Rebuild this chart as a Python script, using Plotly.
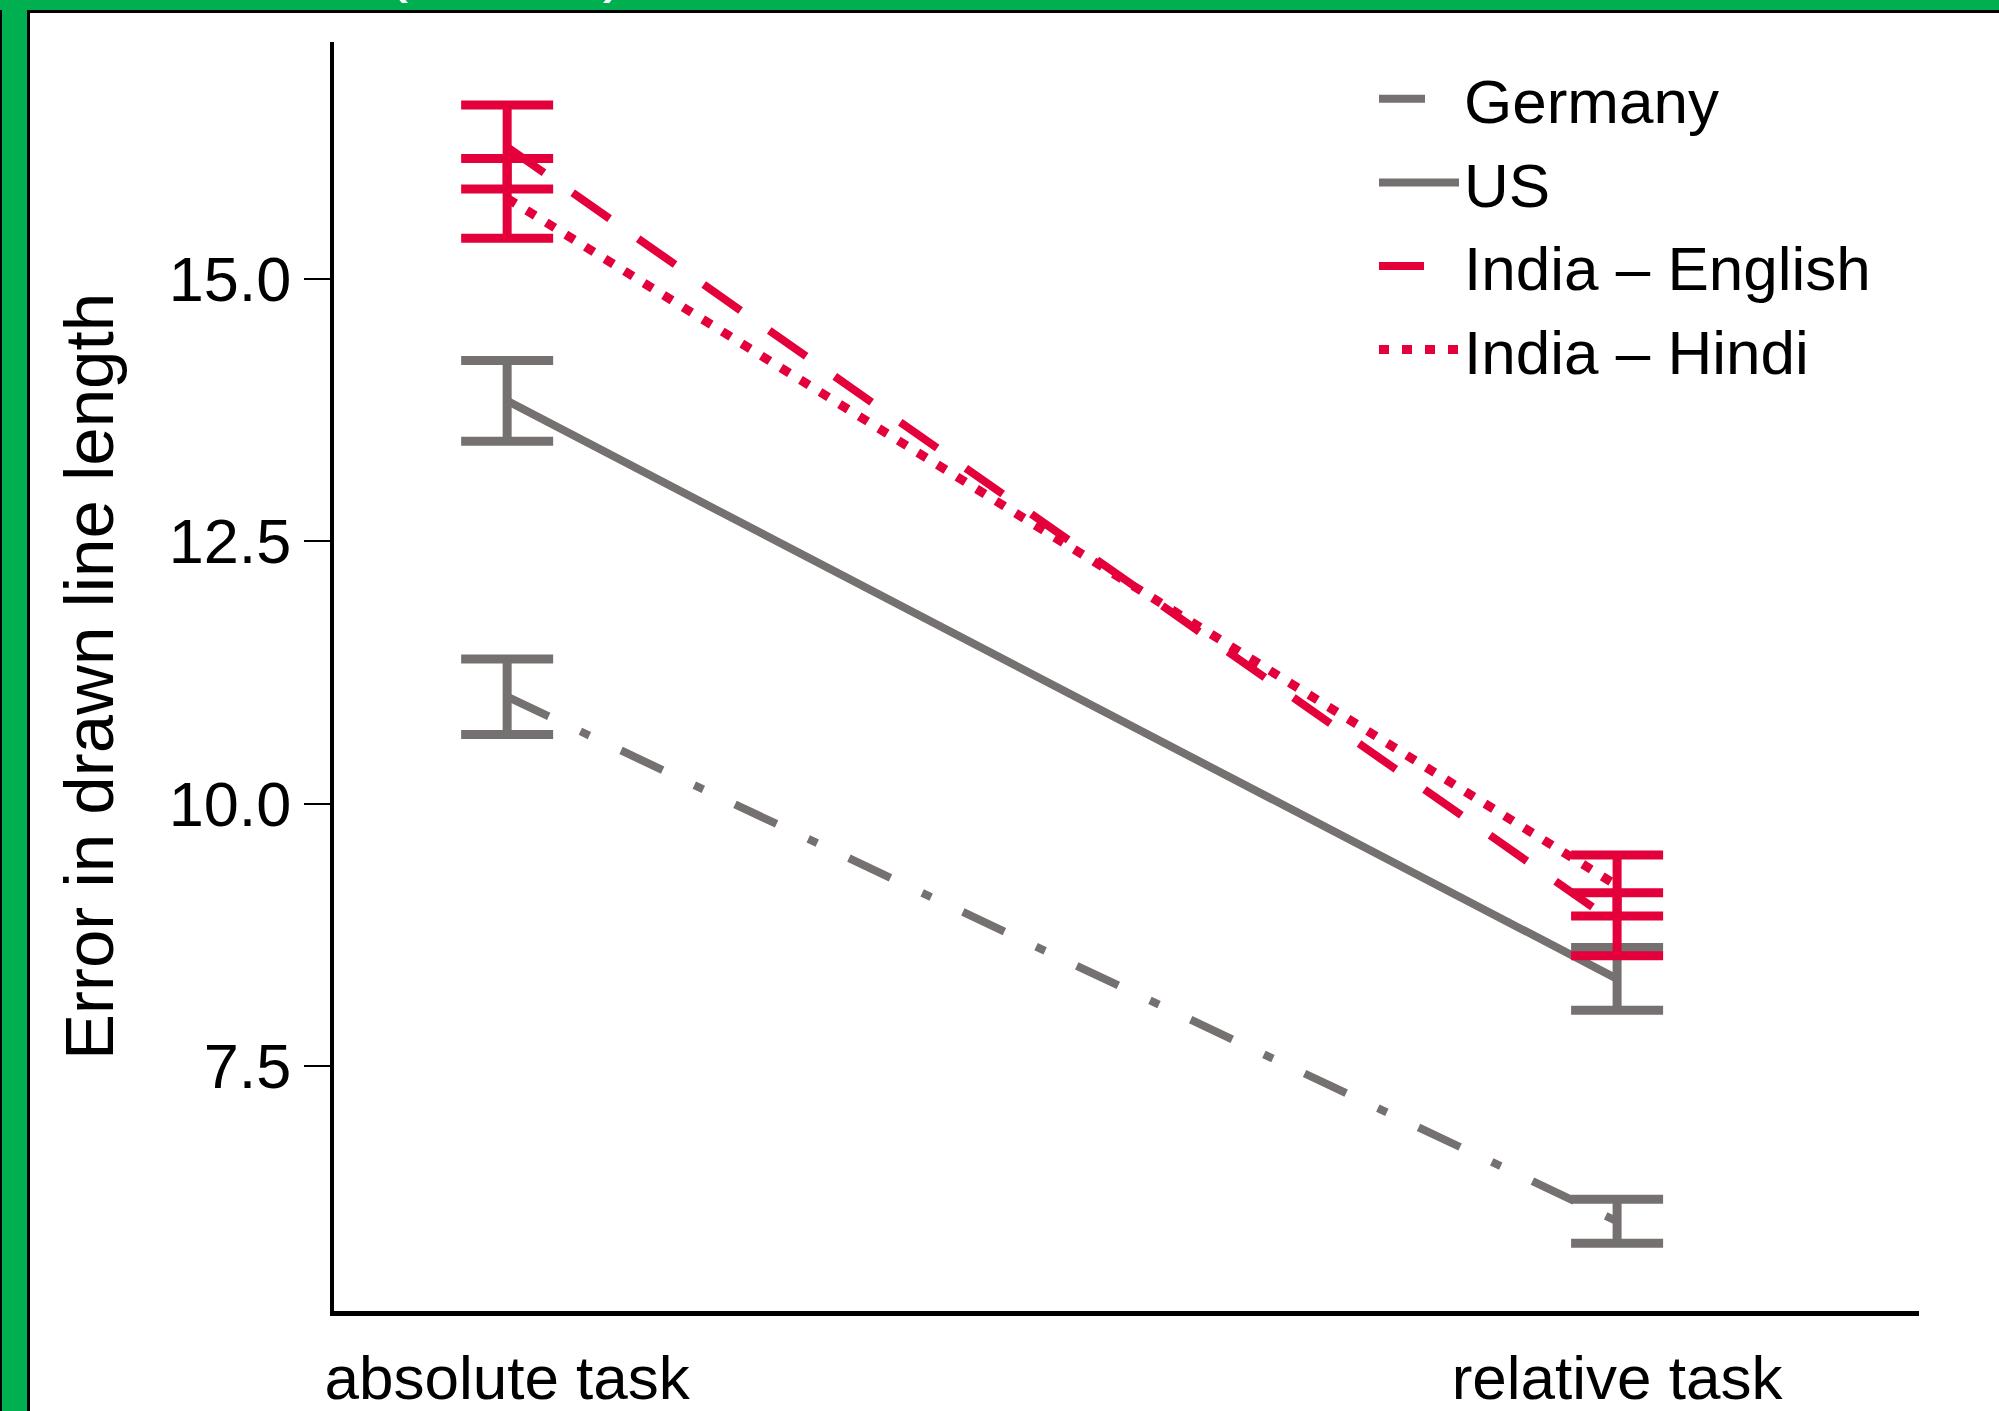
import plotly.graph_objects as go

# ---- data ----
tasks = ["absolute task", "relative task"]
series_names = ["Germany", "US", "India – English", "India – Hindi"]
germany = [11.02, 6.02]
germany_err = [0.36, 0.21]
us = [13.84, 8.33]
us_err = [0.385, 0.30]
india_en = [16.26, 8.85]
india_en_err = [0.40, 0.30]
india_hi = [15.77, 9.22]
india_hi_err = [0.38, 0.29]
y_ticks = [7.5, 10.0, 12.5, 15.0]

values = [germany, us, india_en, india_hi]
errors = [germany_err, us_err, india_en_err, india_hi_err]

GRAY = "#767171"
RED = "#E4003B"
colors = [GRAY, GRAY, RED, RED]
dashes = ["46px,35px,10px,35px", "solid", "45px,35px", "10px,13px"]
widths = [8, 8, 8, 9]

FONT = "Arial, Liberation Sans, Helvetica, sans-serif"

fig = go.Figure()
for name, vals, err, col, dash, w in zip(series_names, values, errors, colors, dashes, widths):
    fig.add_trace(go.Scatter(
        x=tasks, y=vals, name=name, mode="lines",
        line=dict(color=col, width=w, dash=dash),
        error_y=dict(type="data", array=err, visible=True, color=col,
                     thickness=9, width=46),
    ))

W, H = 1999, 1411
L, R, T, B = 334, 80, 42, 100
pw, ph = W - L - R, H - T - B

fig.update_layout(
    width=W, height=H,
    margin=dict(l=L, r=R, t=T, b=B, pad=0, autoexpand=False),
    paper_bgcolor="#00AF50",
    plot_bgcolor="white",
    font=dict(family=FONT, color="black"),
    showlegend=True,
    legend=dict(x=(1374 - L) / pw, y=1 - (52 - T) / ph, xanchor="left", yanchor="top",
                bgcolor="rgba(0,0,0,0)", font=dict(size=62, family=FONT),
                tracegroupgap=0, itemwidth=80),
    xaxis=dict(type="category", range=[-0.156, 1.272], automargin=False,
               showline=True, linecolor="black", linewidth=5,
               showgrid=False, zeroline=False, ticks="",
               tickfont=dict(size=62, family=FONT),
               ticklabelstandoff=9),
    yaxis=dict(range=[5.164, 17.26], tickvals=y_ticks, tickformat=".1f",
               automargin=False,
               showline=True, linecolor="black", linewidth=4,
               showgrid=False, zeroline=False,
               ticks="outside", ticklen=26, tickwidth=2, tickcolor="black",
               tickfont=dict(size=63, family=FONT),
               title=dict(text="Error in drawn line length",
                          font=dict(size=69, family=FONT), standoff=34)),
    shapes=[
        dict(type="rect", xref="paper", yref="paper", layer="below",
             x0=-(L - 28.5) / pw, x1=1.2,
             y0=-0.2, y1=1 + (T - 11.5) / ph,
             fillcolor="white", line=dict(color="black", width=3)),
        dict(type="line", xref="paper", yref="paper", layer="below",
             x0=-(L - 1) / pw, x1=-(L - 1) / pw, y0=-0.2, y1=1 + (T - 10) / ph,
             line=dict(color="black", width=2)),
    ],
    annotations=[dict(text="(Part B)", xref="paper", yref="paper",
                      x=(383 - L) / pw, y=1 + (T - 5) / ph,
                      xanchor="left", yanchor="bottom", showarrow=False,
                      font=dict(size=70, color="white", family=FONT))],
)

fig.write_html("out.html",
               config={"displayModeBar": False},
               post_script="document.body.style.margin='0';document.body.style.overflow='hidden';")
